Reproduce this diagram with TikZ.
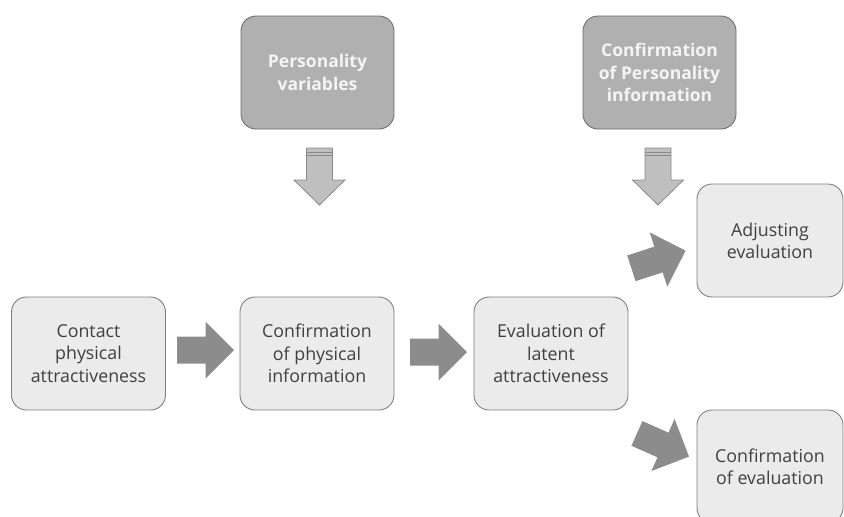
\documentclass[tikz,border=0pt]{standalone}
\usepackage{fontspec}
\setmainfont{Open Sans}
\definecolor{boxfill}{HTML}{EBEBEB}
\definecolor{boxline}{HTML}{7F7F7F}
\definecolor{topfill}{HTML}{B0B0B0}
\definecolor{topline}{HTML}{6E6E6E}
\definecolor{toptxt}{HTML}{F4F4F4}
\definecolor{darkarr}{HTML}{8C8C8C}
\definecolor{lightarr}{HTML}{BFBFBF}
\definecolor{lightarrline}{HTML}{8A8A8A}
\definecolor{txt}{HTML}{404040}
\tikzset{
  stepbox/.style={draw=boxline, line width=0.9pt, fill=boxfill, rounded corners=15pt,
    minimum width=154pt, minimum height=113pt, align=center, text=txt,
    font=\fontsize{17.8}{22.3}\selectfont, inner sep=0pt},
  topbox/.style={draw=topline, line width=0.9pt, fill=topfill, rounded corners=15pt,
    minimum width=153pt, minimum height=113pt, align=center, text=toptxt,
    font=\bfseries\fontsize{17.5}{22.3}\selectfont, inner sep=0pt},
  darkblock/.pic={
    \fill[darkarr] (-28.5,-13.5) -- (0,-13.5) -- (0,-28.5) -- (28.5,0) -- (0,28.5) -- (0,13.5) -- (-28.5,13.5) -- cycle;
  },
  lightblock/.pic={
    \draw[draw=lightarrline, fill=lightarr, line width=0.8pt] (-28.5,-13) -- (3.5,-13) -- (3.5,-25.5) -- (28.5,0) -- (3.5,25.5) -- (3.5,13) -- (-28.5,13) -- cycle;
    \draw[lightarrline, line width=0.8pt] (-24.5,-13) -- (-24.5,13);
    \draw[lightarrline, line width=0.8pt] (-21,-13) -- (-21,13);
  }
}
\begin{document}
\begin{tikzpicture}[x=1pt,y=-1pt]
\clip (0,0) rectangle (844,517);
\useasboundingbox (0,0) rectangle (844,517);

\node[stepbox] (contact) at (88.5,353.5) {Contact\\physical\\attractiveness};
\node[stepbox] (confphys) at (317,353.5) {Confirmation\\of physical\\information};
\node[stepbox] (evallat) at (551,353.5) {Evaluation of\\latent\\attractiveness};
\node[stepbox, minimum width=146pt] (adjust) at (770,240.5) {Adjusting\\evaluation};
\node[stepbox, minimum width=146pt] (confeval) at (770,466.5) {Confirmation\\of evaluation};

\node[topbox] (persvar) at (317.5,72.5) {Personality\\variables};
\node[topbox] (confpers) at (659.5,72.5) {Confirmation\\of Personality\\information};

% block arrows
\pic[rotate=0] at (205.5,350) {darkblock};
\pic[rotate=0] at (438.5,352) {darkblock};
\pic[rotate=18] at (658.5,259.5) {darkblock};
\pic[rotate=-24] at (663,445) {darkblock};
\pic[rotate=-90] at (319.5,176.5) {lightblock};
\pic[rotate=-90] at (658,176.5) {lightblock};
\end{tikzpicture}
\end{document}
